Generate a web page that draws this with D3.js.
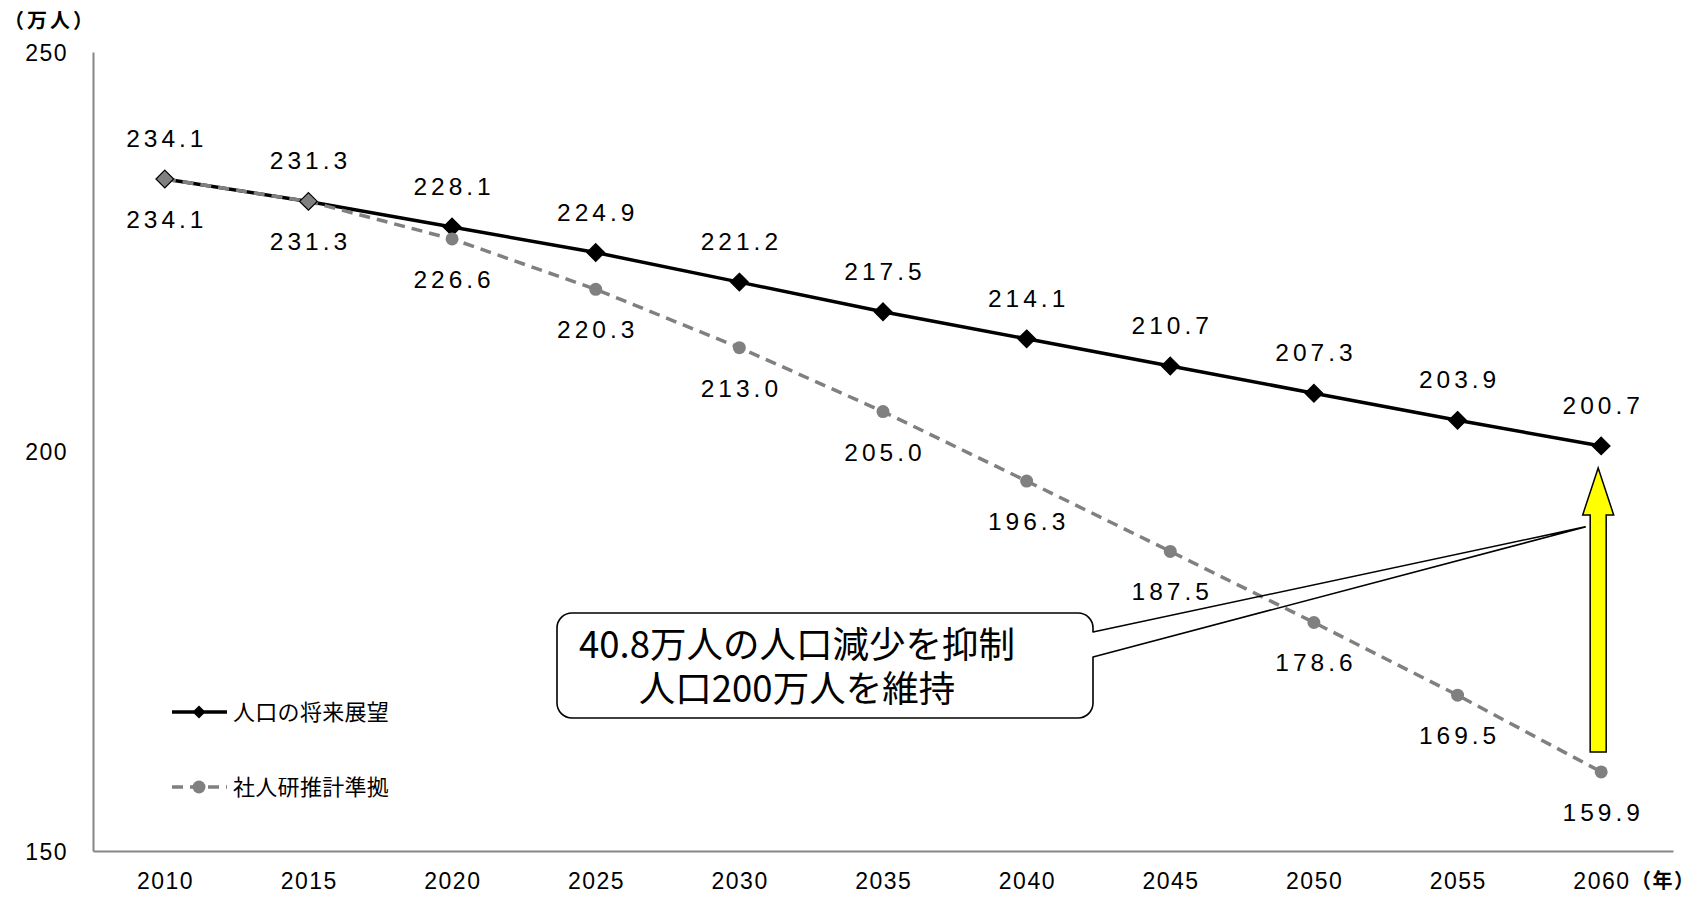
<!DOCTYPE html>
<html>
<head>
<meta charset="utf-8">
<script src="https://cdn.jsdelivr.net/npm/d3@7"></script>
<style>
  html, body { margin: 0; padding: 0; background: #fff; }
  svg { display: block; }
</style>
</head>
<body>
<div id="chart"></div>
<script>
// ---- data ----
const years = [2010, 2015, 2020, 2025, 2030, 2035, 2040, 2045, 2050, 2055, 2060];
const visionValues = [234.1, 231.3, 228.1, 224.9, 221.2, 217.5, 214.1, 210.7, 207.3, 203.9, 200.7];
const ipssValues   = [234.1, 231.3, 226.6, 220.3, 213.0, 205.0, 196.3, 187.5, 178.6, 169.5, 159.9];
const yTicks = [150, 200, 250];
const seriesNames = ["人口の将来展望", "社人研推計準拠"];
const yUnit = "（万人）";
const xUnit = "（年）";
const calloutLines = ["40.8万人の人口減少を抑制", "人口200万人を維持"];

// ---- setup ----
const W = 1700, H = 897;
const svg = d3.select("#chart").append("svg").attr("width", W).attr("height", H);
const numFont = "'Liberation Sans', Arial, sans-serif";
const cjkFont = "'Noto Sans CJK JP', 'Noto Sans', sans-serif";

const x = d3.scaleBand().domain(years).range([93, 1673]).padding(0);
const y = d3.scaleLinear().domain([150, 250]).range([851, 52]);
const cx = d => x(d) + x.bandwidth() / 2;

// ---- axes ----
const yAxis = svg.append("g").attr("transform", "translate(93,0)")
  .call(d3.axisLeft(y).tickValues(yTicks).tickSize(0).tickSizeOuter(0).tickPadding(25).tickFormat(d3.format("d")));
yAxis.select(".domain").attr("stroke", "#868686").attr("stroke-width", 2);
yAxis.selectAll("text").attr("font-family", numFont).attr("font-size", 23)
  .attr("letter-spacing", "1.5px").attr("fill", "#000").attr("dy", "0.35em");

const xAxis = svg.append("g").attr("transform", "translate(0,851)")
  .call(d3.axisBottom(x).tickSize(0).tickSizeOuter(0).tickPadding(0).tickFormat(d3.format("d")));
xAxis.select(".domain").attr("stroke", "#868686").attr("stroke-width", 2);
xAxis.selectAll("text").attr("font-family", numFont).attr("font-size", 23)
  .attr("letter-spacing", "1.5px").attr("fill", "#000").attr("dy", null).attr("y", 38).attr("dx", "0.75px");

svg.append("text").attr("x", 4).attr("y", 28).text(yUnit)
  .attr("font-family", cjkFont).attr("font-size", 20).attr("font-weight", "bold").attr("letter-spacing", "3px");
svg.append("text").attr("x", 1631).attr("y", 888).text(xUnit)
  .attr("font-family", cjkFont).attr("font-size", 20).attr("font-weight", "bold").attr("letter-spacing", "1.5px");

// ---- callout (fill under series) ----
const bx0 = 557, bx1 = 1093, by0 = 613, by1 = 718, r = 15;
const tipX = cx(2060) - 16, tipY = y(200.7) + 81;
const calloutPath =
  `M${bx0 + r},${by0} L${bx1 - r},${by0} A${r},${r} 0 0 1 ${bx1},${by0 + r} ` +
  `L${bx1},632 L${tipX},${tipY} L${bx1},657 ` +
  `L${bx1},${by1 - r} A${r},${r} 0 0 1 ${bx1 - r},${by1} L${bx0 + r},${by1} ` +
  `A${r},${r} 0 0 1 ${bx0},${by1 - r} L${bx0},${by0 + r} A${r},${r} 0 0 1 ${bx0 + r},${by0} Z`;
svg.append("path").attr("d",
  `M${bx0 + r},${by0} L${bx1 - r},${by0} A${r},${r} 0 0 1 ${bx1},${by0 + r} L${bx1},${by1 - r} A${r},${r} 0 0 1 ${bx1 - r},${by1} L${bx0 + r},${by1} A${r},${r} 0 0 1 ${bx0},${by1 - r} L${bx0},${by0 + r} A${r},${r} 0 0 1 ${bx0 + r},${by0} Z`)
  .attr("fill", "#fff");

// ---- series lines ----
const line = d3.line().x((d, i) => cx(years[i])).y(d => y(d));
svg.append("path").datum(visionValues).attr("d", line)
  .attr("fill", "none").attr("stroke", "#000").attr("stroke-width", 3.5);
svg.append("path").datum(ipssValues).attr("d", line)
  .attr("fill", "none").attr("stroke", "#808080").attr("stroke-width", 3.5)
  .attr("stroke-dasharray", "11,7");

// black diamonds (gray fill where the two series coincide)
const diamond = d3.symbol().type(d3.symbolDiamond2).size(200);
svg.append("g").selectAll("path").data(visionValues).join("path")
  .attr("d", diamond)
  .attr("transform", (d, i) => `translate(${cx(years[i])},${y(d)})`)
  .attr("fill", (d, i) => d === ipssValues[i] ? "#808080" : "#000")
  .attr("stroke", "#000").attr("stroke-width", 1.2);

// gray circles
svg.append("g").selectAll("circle")
  .data(ipssValues.map((v, i) => ({ v, i })).filter(o => o.v !== visionValues[o.i]))
  .join("circle")
  .attr("cx", o => cx(years[o.i])).attr("cy", o => y(o.v)).attr("r", 6.5)
  .attr("fill", "#808080");

// ---- data labels ----
const fmt = d3.format(".1f");
svg.append("g").selectAll("text").data(visionValues).join("text")
  .attr("x", (d, i) => cx(years[i]) + 2).attr("y", d => y(d) - 32)
  .attr("text-anchor", "middle").attr("font-family", numFont).attr("font-size", 24.5)
  .attr("letter-spacing", "4px").text(d => fmt(d));
svg.append("g").selectAll("text").data(ipssValues).join("text")
  .attr("x", (d, i) => cx(years[i]) + 2).attr("y", d => y(d) + 49)
  .attr("text-anchor", "middle").attr("font-family", numFont).attr("font-size", 24.5)
  .attr("letter-spacing", "4px").text(d => fmt(d));

// ---- callout outline + text ----
svg.append("path").attr("d", calloutPath).attr("fill", "none")
  .attr("stroke", "#000").attr("stroke-width", 1.6).attr("stroke-linejoin", "round");
const ct = svg.append("text").attr("text-anchor", "middle")
  .attr("font-family", cjkFont).attr("font-size", 36.5);
calloutLines.forEach((t, i) => {
  ct.append("tspan").attr("x", 797).attr("y", 658 + i * 44).text(t);
});

// ---- yellow arrow ----
const ax = cx(2060) - 3, aTop = y(200.7) + 22, aBot = y(159.9) - 20;
const headBase = aTop + 47, sw = 8, hw = 15.5;
svg.append("path").attr("d",
  `M${ax},${aTop} L${ax + hw},${headBase} L${ax + sw},${headBase} L${ax + sw},${aBot} ` +
  `L${ax - sw},${aBot} L${ax - sw},${headBase} L${ax - hw},${headBase} Z`)
  .attr("fill", "#ffff00").attr("stroke", "#000").attr("stroke-width", 1.5)
  .attr("stroke-linejoin", "miter");

// ---- legend ----
const legend = svg.append("g");
const lg = [
  { y: 712, name: seriesNames[0] },
  { y: 787, name: seriesNames[1] }
];
legend.append("line").attr("x1", 172).attr("x2", 227).attr("y1", lg[0].y).attr("y2", lg[0].y)
  .attr("stroke", "#000").attr("stroke-width", 3.5);
legend.append("path").attr("d", d3.symbol().type(d3.symbolDiamond2).size(110))
  .attr("transform", `translate(199,${lg[0].y})`).attr("fill", "#000");
legend.append("line").attr("x1", 172).attr("x2", 227).attr("y1", lg[1].y).attr("y2", lg[1].y)
  .attr("stroke", "#808080").attr("stroke-width", 3.5).attr("stroke-dasharray", "11,7");
legend.append("circle").attr("cx", 199).attr("cy", lg[1].y).attr("r", 6.5).attr("fill", "#808080");
lg.forEach(o => {
  legend.append("text").attr("x", 233).attr("y", o.y + 8).text(o.name)
    .attr("font-family", cjkFont).attr("font-size", 22).attr("letter-spacing", "0.3px");
});
</script>
</body>
</html>
